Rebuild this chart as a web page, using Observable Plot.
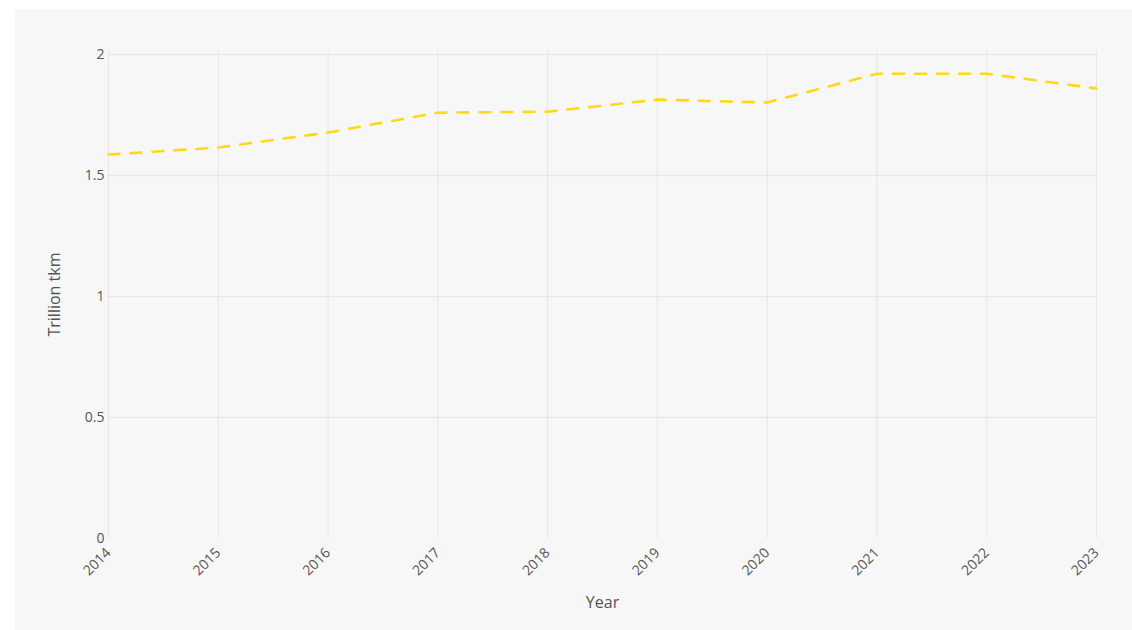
<!DOCTYPE html>
<html><head><meta charset="utf-8">
<script src="https://cdn.jsdelivr.net/npm/d3@7"></script>
<script src="https://cdn.jsdelivr.net/npm/@observablehq/plot@0.6"></script>
<style>
html,body{margin:0;padding:0;background:#fff;}
#chart{position:absolute;left:15px;top:9px;}
#chart svg{background:#f7f7f7;display:block;}
</style>
</head><body>
<div id="chart"></div>
<script>
const years = [2014, 2015, 2016, 2017, 2018, 2019, 2020, 2021, 2022, 2023];
const values = [1.587, 1.616, 1.678, 1.760, 1.764, 1.814, 1.802, 1.921, 1.921, 1.860];
const yTicks = [0, 0.5, 1, 1.5, 2];
const data = years.map((y, i) => ({year: y, value: values[i]}));

const chart = Plot.plot({
  width: 1117,
  height: 621,
  marginLeft: 93,
  marginRight: 36,
  marginTop: 41,
  marginBottom: 92,
  style: {background: "#f7f7f7", fontFamily: "'Open Sans', sans-serif", fontSize: "14px", color: "#555"},
  x: {domain: [2014, 2023], ticks: years},
  y: {domain: [0, 2.017], ticks: yTicks},
  marks: [
    Plot.gridX(years, {stroke: "#e6e6e6", strokeOpacity: 1, strokeWidth: 1}),
    Plot.gridY(yTicks.filter(d => d > 0), {stroke: "#e4e4e4", strokeOpacity: 1, strokeWidth: 1, x1: 2014, x2: 2023}),
    Plot.axisX(years, {tickSize: 0, tickPadding: 12, tickRotate: -45, tickFormat: d => String(d), fontSize: 14, fill: "#555",
      label: "Year", labelAnchor: "center", labelArrow: "none", labelOffset: 69}),
    Plot.axisY(yTicks, {tickSize: 0, tickPadding: 4, tickFormat: d => String(d), fontSize: 14, fill: "#555",
      label: "Trillion tkm", labelAnchor: "center", labelArrow: "none", labelOffset: 60}),
    Plot.line(data, {x: "year", y: "value", stroke: "#ffd817", strokeWidth: 2.6, strokeDasharray: "11,11"})
  ]
});
document.getElementById("chart").appendChild(chart);
chart.querySelectorAll("g[aria-label='x-axis label'] text, g[aria-label='y-axis label'] text").forEach(t => {t.style.fontSize = "16px"; t.setAttribute("fill", "#555");});
</script>
</body></html>
